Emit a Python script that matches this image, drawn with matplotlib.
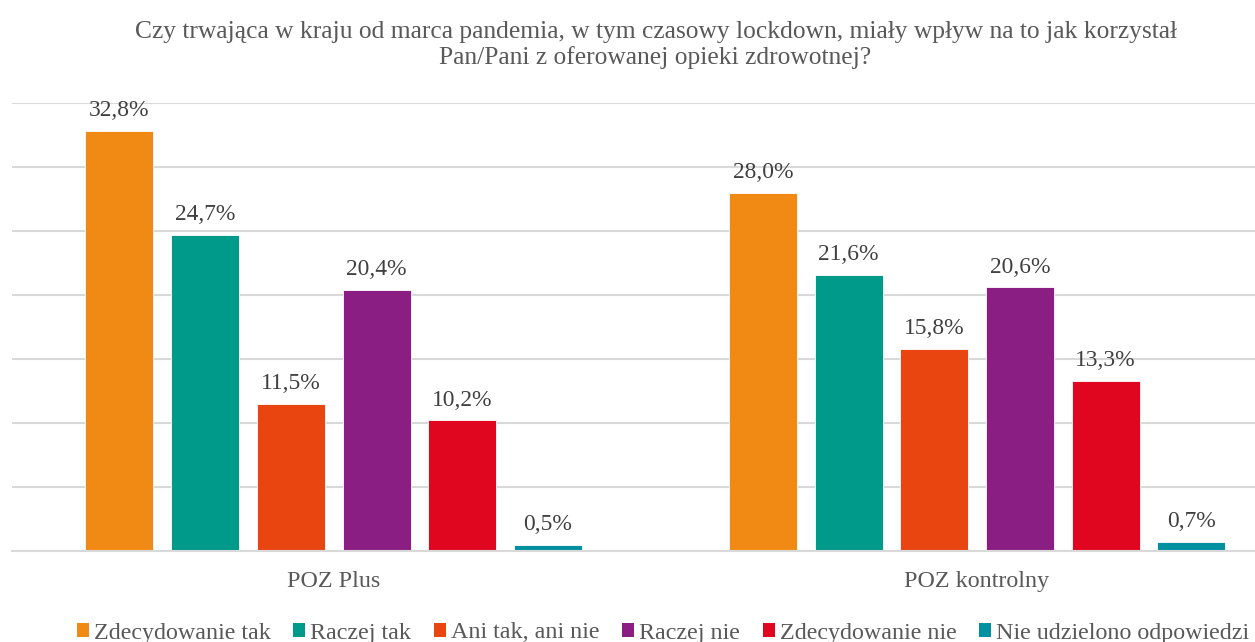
import matplotlib
matplotlib.use("Agg")
import matplotlib.pyplot as plt
import numpy as np
from matplotlib.patches import Patch

categories = ["POZ Plus", "POZ kontrolny"]
series_names = ["Zdecydowanie tak", "Raczej tak", "Ani tak, ani nie",
                "Raczej nie", "Zdecydowanie nie", "Nie udzielono odpowiedzi"]
values = {
    "Zdecydowanie tak": [32.8, 28.0],
    "Raczej tak": [24.7, 21.6],
    "Ani tak, ani nie": [11.5, 15.8],
    "Raczej nie": [20.4, 20.6],
    "Zdecydowanie nie": [10.2, 13.3],
    "Nie udzielono odpowiedzi": [0.5, 0.7],
}
colors = ["#F18A14", "#009A8A", "#E84511", "#8B1E82", "#E0061F", "#0090A0"]
title = "Czy trwająca w kraju od marca pandemia, w tym czasowy lockdown, miały wpływ na to jak korzystał\nPan/Pani z oferowanej opieki zdrowotnej?"

plt.rcParams['font.family'] = ['Liberation Serif', 'DejaVu Serif']

W, H = 1255, 642
fig = plt.figure(figsize=(W / 100, H / 100), dpi=100)
ax = fig.add_axes([12 / W, (H - 551) / H, (W - 12) / W, (551 - 103) / H])

x = np.arange(len(categories))
step = 0.1332
width = 0.1057
n = len(series_names)
for i, (name, col) in enumerate(zip(series_names, colors)):
    offs = (i - (n - 1) / 2) * step
    vals = values[name]
    ax.bar(x + offs, vals, width, color=col, edgecolor="white", linewidth=0.6, zorder=3)
    for xi, v in zip(x + offs, vals):
        ax.annotate(f"{v:.1f}%".replace(".", ","), (xi, v), xytext=(0, 7),
                    textcoords="offset points", ha="center", va="bottom",
                    fontsize=16.9, color="#404040")

ax.set_xlim(-0.5, 1.432)
ax.set_ylim(0, 35)
ax.set_yticks(np.arange(0, 36, 5))
ax.yaxis.grid(True, color="#D9D9D9", linewidth=1.5, zorder=0)
ax.tick_params(axis="y", left=False, labelleft=False)
ax.tick_params(axis="x", bottom=False, labelsize=17.3, labelcolor="#595959", pad=11)
ax.set_xticks(x)
ax.set_xticklabels(categories)
for s in ["top", "right", "left"]:
    ax.spines[s].set_visible(False)
ax.spines["bottom"].set_color("#D9D9D9")
ax.spines["bottom"].set_linewidth(1.5)
ax.spines["bottom"].set_zorder(4)

fig.text(655.5 / W, 1 - 21 / H, title, ha="center", va="top", fontsize=18.4,
         color="#595959", linespacing=1.15)

handles = [Patch(facecolor=c, edgecolor="none") for c in colors]
fig.legend(handles, series_names, loc="center", bbox_to_anchor=(663 / W, 1 - 633 / H),
           ncol=6, frameon=False, fontsize=17.3, labelcolor="#595959",
           handlelength=0.5, handleheight=0.5, handletextpad=0.22, columnspacing=0.93,
           borderaxespad=0)

fig.savefig("out.png", dpi=100)
